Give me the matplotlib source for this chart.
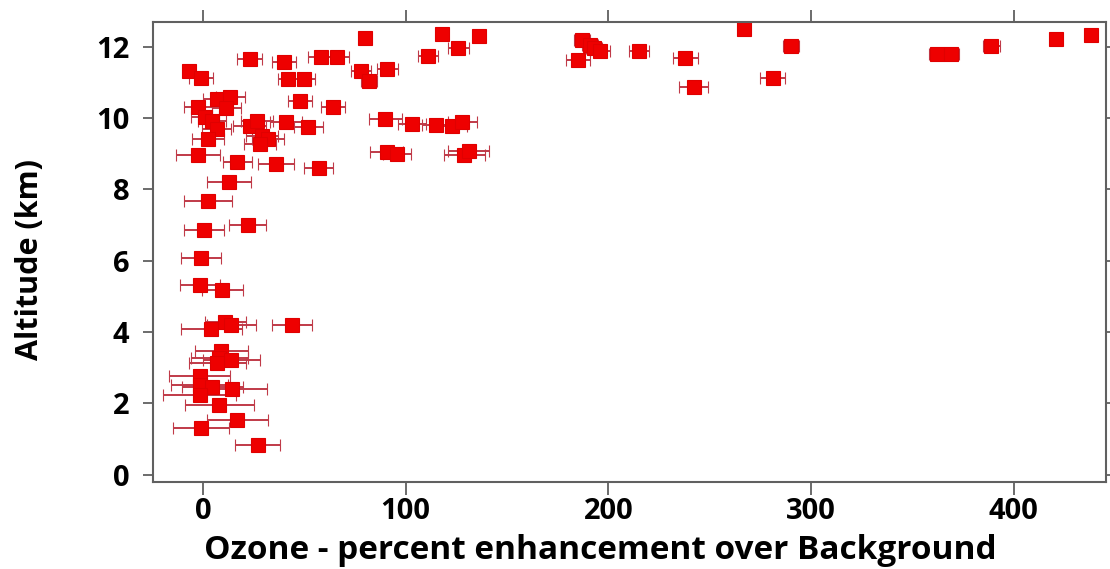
import matplotlib
matplotlib.use("Agg")
import matplotlib.pyplot as plt

# ozone enhancement (%), altitude (km), enhancement uncertainty (%)
ozone = [267, 438, 421, 389, 362, 369, 290, 281, 238, 242, 215, 187, 191, 193, 196, 185,
         80, 118, 126, 136, 111, 58, 66, 78, 82, 91, 48, 64, 42, 50,
         -7, -1, 23, 40, 7, 13.5, -2.5, 11.5, 1, 4.3, 6.7, 2.5,
         -2.5, 17, 36, 57, 12.8, 23, 26.5, 29, 32, 28, 41, 52,
         90, 103, 115, 123, 128, 90.6, 95.6, 129, 131,
         2.5, 22, 0.5, -1, -1.6, 9.5, 11, 14, 4, 44,
         9, 8, 14, 7, -1.6, -1.6, 4.6, 14.5, -1.6, 8, 17, -1, 27]
altitude = [12.50, 12.32, 12.22, 12.01, 11.78, 11.78, 12.02, 11.11, 11.69, 10.88, 11.89, 12.18, 12.04, 11.96, 11.87, 11.62,
            12.24, 12.36, 11.97, 12.31, 11.75, 11.72, 11.72, 11.33, 11.05, 11.38, 10.49, 10.31, 11.10, 11.10,
            11.33, 11.11, 11.64, 11.56, 10.53, 10.58, 10.30, 10.28, 10.02, 9.93, 9.69, 9.41,
            8.96, 8.77, 8.72, 8.59, 8.20, 9.78, 9.93, 9.50, 9.41, 9.27, 9.88, 9.74,
            9.97, 9.83, 9.80, 9.78, 9.88, 9.05, 8.99, 8.96, 9.08,
            7.68, 7.00, 6.85, 6.09, 5.31, 5.17, 4.28, 4.19, 4.09, 4.21,
            3.46, 3.28, 3.23, 3.14, 2.76, 2.53, 2.46, 2.41, 2.25, 1.97, 1.53, 1.31, 0.84]
ozone_err = [2, 2, 2, 4, 4, 4, 4, 6, 6, 7, 5, 4, 4, 4, 5, 6,
             2, 2, 5, 2, 5, 6, 6, 5, 4, 5, 6, 6, 5, 5,
             2, 6, 6, 6, 7, 7, 7, 7, 7, 7, 7, 8,
             11, 7, 9, 7, 11, 8, 8, 8, 8, 8, 8, 7,
             8, 7, 7, 7, 7, 8, 7, 10, 10,
             12, 9, 10, 10, 10, 10, 10, 12, 15, 10,
             13, 14, 14, 14, 15, 14, 15, 17, 18, 17, 15, 14, 11]

plt.rcParams['font.family'] = ['Open Sans', 'DejaVu Sans']
plt.rcParams['font.weight'] = 'bold'

fig = plt.figure(figsize=(11.1, 5.69), dpi=100)
ax = fig.add_axes([0.1378, 0.1529, 0.8586, 0.8084])

ax.errorbar(ozone, altitude, xerr=ozone_err, fmt='s', color='#ee0000',
            markersize=10.5, markeredgewidth=0.8, markeredgecolor='#e00000',
            ecolor='#c03a48', elinewidth=1.4, capsize=4.5, capthick=1.4)

ax.set_xlim(-24.7, 445.5)
ax.set_ylim(-0.2, 12.69)
ax.set_xticks([0, 100, 200, 300, 400])
ax.set_yticks([0, 2, 4, 6, 8, 10, 12])

for s in ax.spines.values():
    s.set_color('#606060')
    s.set_linewidth(1.5)

ax.tick_params(axis='both', which='major', direction='out', width=1.3,
               color='#606060', labelsize=21, top=True, right=True)
ax.tick_params(axis='x', length=9, pad=2)
ax.tick_params(axis='y', length=7, pad=10)

ax.set_xlabel('Ozone - percent enhancement over Background', fontsize=24, fontweight='bold')
ax.set_ylabel('Altitude (km)', fontsize=22, fontweight='bold')
ax.xaxis.set_label_coords(0.469, -0.112)
ax.yaxis.set_label_coords(-0.113, 0.483)

fig.savefig('out.png', dpi=100)
